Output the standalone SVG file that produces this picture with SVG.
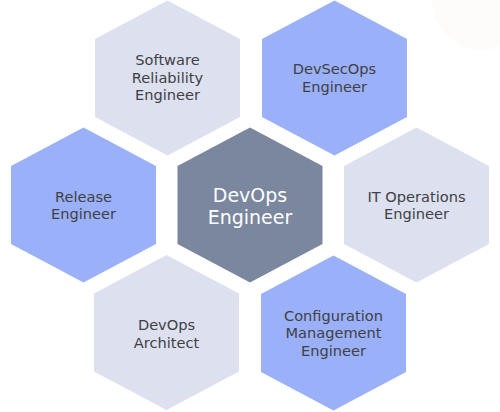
<svg xmlns="http://www.w3.org/2000/svg" xmlns:xlink="http://www.w3.org/1999/xlink" width="500" height="412" viewBox="0 0 500 412">
  <style>
    .lav { fill: #dde0ef; }
    .blue { fill: #9ab0f8; }
    .core { fill: #7a879e; }
    .t { font-family: "DejaVu Sans", "Liberation Sans", sans-serif; font-size: 14.6px; fill: #404046; text-anchor: middle; }
    .tc { font-family: "DejaVu Sans", "Liberation Sans", sans-serif; font-size: 19px; fill: #ffffff; text-anchor: middle; }
  </style>
  <defs>
    <polygon id="hex" points="0,-77.5 72.5,-39 72.5,39 0,77.5 -72.5,39 -72.5,-39"/>
  </defs>
  <rect width="500" height="412" fill="#ffffff"/>
  <circle cx="482" cy="0" r="50" fill="#fdfcfb"/>
  <g id="connectors"/>
  <g id="software-reliability-engineer">
    <use xlink:href="#hex" href="#hex" class="lav" transform="translate(167.5,78)"/>
    <text class="t" x="167.5" y="65">Software</text>
    <text class="t" x="167.5" y="82.7">Reliability</text>
    <text class="t" x="167.5" y="100.3">Engineer</text>
  </g>
  <g id="devsecops-engineer">
    <use xlink:href="#hex" href="#hex" class="blue" transform="translate(334.5,78)"/>
    <text class="t" x="334.5" y="74">DevSecOps</text>
    <text class="t" x="334.5" y="91.7">Engineer</text>
  </g>
  <g id="release-engineer">
    <use xlink:href="#hex" href="#hex" class="blue" transform="translate(83.5,205)"/>
    <text class="t" x="83.5" y="201.7">Release</text>
    <text class="t" x="83.5" y="219.3">Engineer</text>
  </g>
  <g id="devops-engineer">
    <use xlink:href="#hex" href="#hex" class="core" transform="translate(250,205)"/>
    <text class="tc" x="250" y="201.7">DevOps</text>
    <text class="tc" x="250" y="223.5">Engineer</text>
  </g>
  <g id="it-operations-engineer">
    <use xlink:href="#hex" href="#hex" class="lav" transform="translate(416.5,205)"/>
    <text class="t" x="416.5" y="201.7">IT Operations</text>
    <text class="t" x="416.5" y="219.3">Engineer</text>
  </g>
  <g id="devops-architect">
    <use xlink:href="#hex" href="#hex" class="lav" transform="translate(166.5,332.5)"/>
    <text class="t" x="166.5" y="330">DevOps</text>
    <text class="t" x="166.5" y="347.5">Architect</text>
  </g>
  <g id="configuration-management-engineer">
    <use xlink:href="#hex" href="#hex" class="blue" transform="translate(333.5,333)"/>
    <text class="t" x="333.5" y="320.7">Configuration</text>
    <text class="t" x="333.5" y="338.3">Management</text>
    <text class="t" x="333.5" y="356">Engineer</text>
  </g>
</svg>
